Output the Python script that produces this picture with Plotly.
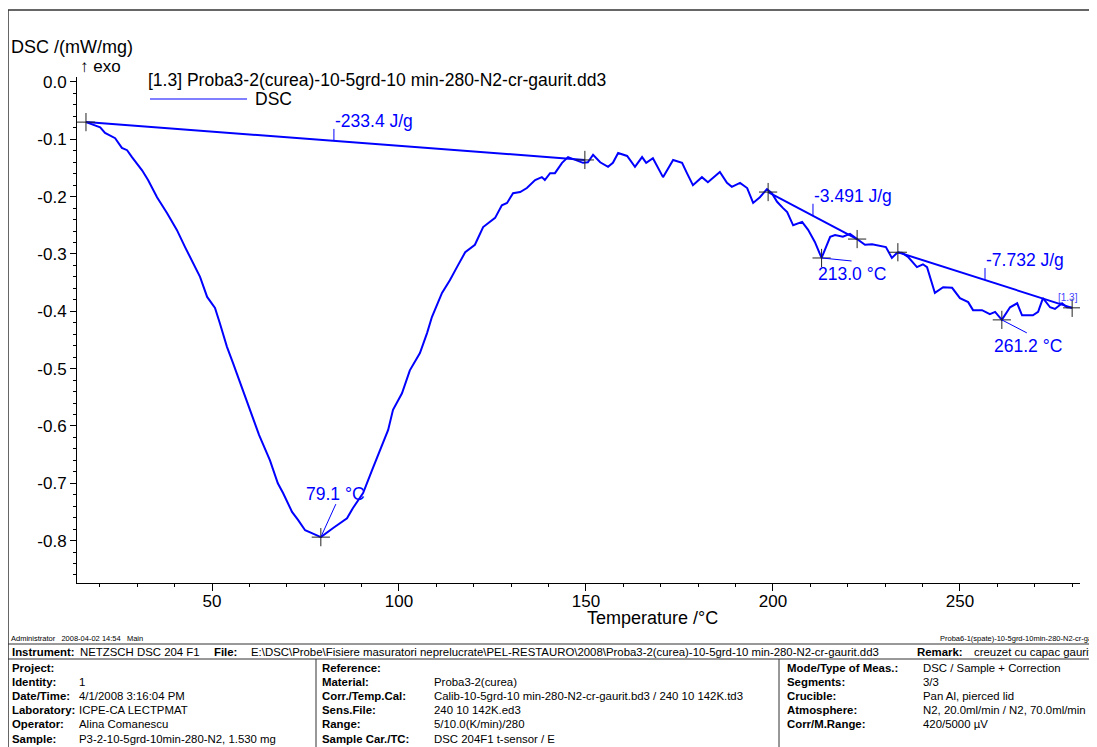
import plotly.graph_objects as go

# ---------------- data ----------------
temperature = [16.3, 20.1, 21.4, 24.1, 25.9, 27.3, 28.6, 31.3, 32.9, 35.3, 38.0, 40.6, 42.8, 44.9,
               46.8, 48.7, 50.8, 52.1, 54.0, 55.6, 57.5, 59.6, 62.6, 65.5, 67.6, 69.0, 71.4, 73.0,
               74.9, 76.7, 79.1, 82.4, 86.1, 87.7, 90.4, 92.8, 94.9, 97.1, 98.4, 100.8, 102.9, 105.6,
               107.5, 108.8, 111.5, 113.6, 115.5, 117.7, 120.3, 122.5, 125.7, 127.5, 128.9, 130.5,
               132.4, 134.2, 136.4, 138.2, 139.0, 140.4, 141.7, 143.6, 145.2, 147.1, 149.2, 150.5,
               151.9, 153.8, 155.9, 157.2, 158.6, 161.0, 163.1, 165.0, 166.1, 167.9, 170.6, 173.3,
               175.7, 177.0, 178.6, 181.0, 182.6, 185.8, 187.7, 189.0, 191.2, 193.1, 194.7, 196.5,
               198.4, 199.7, 201.1, 202.7, 203.8, 205.4, 207.8, 209.4, 211.2, 213.0, 215.3, 216.6,
               218.7, 220.6, 222.5, 224.6, 226.5, 228.6, 230.2, 231.8, 233.2, 234.5, 236.1, 238.5,
               240.1, 241.2, 243.3, 245.5, 247.9, 250.0, 252.2, 253.5, 255.9, 258.0, 259.4, 261.2,
               263.4, 265.3, 266.6, 269.5, 270.9, 272.2, 274.1, 275.4, 277.3, 278.6, 280.0]
dsc = [-0.070, -0.079, -0.089, -0.098, -0.115, -0.119, -0.131, -0.154, -0.171, -0.201, -0.229,
       -0.258, -0.288, -0.316, -0.340, -0.375, -0.394, -0.421, -0.462, -0.490, -0.525, -0.560,
       -0.616, -0.660, -0.700, -0.717, -0.750, -0.764, -0.782, -0.787, -0.794, -0.778, -0.761,
       -0.743, -0.717, -0.677, -0.642, -0.607, -0.572, -0.543, -0.503, -0.473, -0.438, -0.410,
       -0.368, -0.346, -0.323, -0.297, -0.284, -0.253, -0.237, -0.215, -0.211, -0.194, -0.192,
       -0.185, -0.171, -0.166, -0.171, -0.159, -0.159, -0.141, -0.131, -0.136, -0.141, -0.140,
       -0.127, -0.140, -0.148, -0.141, -0.124, -0.129, -0.148, -0.131, -0.141, -0.133, -0.166,
       -0.136, -0.141, -0.159, -0.180, -0.166, -0.175, -0.157, -0.176, -0.183, -0.176, -0.185,
       -0.211, -0.201, -0.187, -0.194, -0.209, -0.220, -0.227, -0.250, -0.244, -0.258, -0.279,
       -0.307, -0.270, -0.267, -0.270, -0.265, -0.274, -0.284, -0.283, -0.286, -0.288, -0.307,
       -0.298, -0.298, -0.305, -0.323, -0.318, -0.323, -0.368, -0.358, -0.359, -0.377, -0.384,
       -0.398, -0.398, -0.405, -0.401, -0.415, -0.393, -0.386, -0.407, -0.407, -0.401, -0.377,
       -0.393, -0.396, -0.386, -0.393, -0.394]

# integration baselines (start/end temperature and DSC value)
base_T = [[16.3, 149.7], [198.7, 222.5], [233.4, 280.0]]
base_D = [[-0.070, -0.136], [-0.192, -0.274], [-0.297, -0.394]]
area_labels = ["-233.4 J/g", "-3.491 J/g", "-7.732 J/g"]
area_label_T = [82.6, 210.7, 256.7]

# peaks
peak_T = [79.1, 213.0, 261.2]
peak_D = [-0.794, -0.307, -0.415]
peak_labels = ["79.1 °C", "213.0 °C", "261.2 °C"]

x_ticks = [50, 100, 150, 200, 250]
y_ticks = [0.0, -0.1, -0.2, -0.3, -0.4, -0.5, -0.6, -0.7, -0.8]
y_ticktext = ["0.0", "-0.1", "-0.2", "-0.3", "-0.4", "-0.5", "-0.6", "-0.7", "-0.8"]

legend_title = "[1.3] Proba3-2(curea)-10-5grd-10 min-280-N2-cr-gaurit.dd3"

# ---------------- layout geometry ----------------
OFF = 8                      # page body margin of the html page
W, H = 1097, 747
PLOT_L, PLOT_R, PLOT_T, PLOT_B = 77, 1080, 77, 583   # plot area in screen pixels
L, T = PLOT_L - OFF, PLOT_T - OFF
R = W - (PLOT_R - OFF)
B = H - (PLOT_B - OFF)
PW, PH = PLOT_R - PLOT_L, PLOT_B - PLOT_T
XR = [13.9, 282.1]
YR = [-0.874, 0.0087]
FONT = "Liberation Sans, Arial, sans-serif"
BLUE = "#0000ff"
BIG = 17.5


def pxx(px):  # screen pixel -> paper x
    return (px - PLOT_L) / PW


def pxy(py):  # screen pixel -> paper y
    return (PLOT_B - py) / PH


def dx(p):  # pixel length -> data x
    return p * (XR[1] - XR[0]) / PW


def dy(p):  # pixel length -> data y
    return p * (YR[1] - YR[0]) / PH


def base_at(i, t):
    (t0, t1), (d0, d1) = base_T[i], base_D[i]
    return d0 + (d1 - d0) * (t - t0) / (t1 - t0)


fig = go.Figure()
fig.add_trace(go.Scatter(x=temperature, y=dsc, mode="lines",
                         line=dict(color=BLUE, width=2), showlegend=False, hoverinfo="skip"))
for i in range(3):
    fig.add_trace(go.Scatter(x=base_T[i], y=base_D[i], mode="lines",
                             line=dict(color=BLUE, width=2), showlegend=False, hoverinfo="skip"))

shapes = []
annotations = []

# area label ticks and texts
for i in range(3):
    t = area_label_T[i]
    yb = base_at(i, t)
    shapes.append(dict(type="line", xref="x", yref="y", x0=t, x1=t, y0=yb, y1=yb + dy(12),
                       line=dict(color=BLUE, width=1)))
    annotations.append(dict(x=t, y=yb + dy(8), xref="x", yref="y", text=area_labels[i],
                            showarrow=False, xanchor="left", yanchor="bottom", xshift=-1,
                            font=dict(size=BIG, color=BLUE, family=FONT)))

# peak leaders and labels (pixel offsets of leader end / label)
leader = [(15, -33), (30, 3), (25, 13)]
label_anchor = [("center", "bottom", 15, -31), ("left", "top", -6, 4), ("left", "top", -10, 14)]
for i in range(3):
    lx, ly = leader[i]
    shapes.append(dict(type="line", xref="x", yref="y", x0=peak_T[i], y0=peak_D[i],
                       x1=peak_T[i] + dx(lx), y1=peak_D[i] - dy(ly),
                       line=dict(color=BLUE, width=1)))
    xa, ya, ox, oy = label_anchor[i]
    annotations.append(dict(x=peak_T[i] + dx(ox), y=peak_D[i] - dy(oy), xref="x", yref="y",
                            text=peak_labels[i], showarrow=False, xanchor=xa, yanchor=ya,
                            font=dict(size=BIG, color=BLUE, family=FONT)))

# crosses at integration limits and peaks
cross_T = [bt for pair in base_T for bt in pair] + peak_T
cross_D = [bd for pair in base_D for bd in pair] + peak_D
fig.add_trace(go.Scatter(x=cross_T, y=cross_D, mode="markers",
                         marker=dict(symbol="cross-thin", size=13,
                                     line=dict(color="#222222", width=1)),
                         showlegend=False, hoverinfo="skip"))

# "[1.3]" curve tag
annotations.append(dict(x=temperature[-1], y=dsc[-1], xref="x", yref="y", text="[1.3]",
                        showarrow=False, xanchor="right", yanchor="bottom", xshift=8, yshift=3,
                        font=dict(size=10, color="#4444ff", family=FONT)))

# titles and legend text
annotations += [
    dict(x=pxx(9), y=pxy(47), xref="paper", yref="paper", text="DSC /(mW/mg)", showarrow=False,
         xanchor="left", yanchor="middle", font=dict(size=18, color="black", family=FONT)),
    dict(x=pxx(78), y=pxy(67), xref="paper", yref="paper", text="↑ exo", showarrow=False,
         xanchor="left", yanchor="middle", font=dict(size=17, color="black", family=FONT)),
    dict(x=pxx(146), y=pxy(80), xref="paper", yref="paper", text=legend_title, showarrow=False,
         xanchor="left", yanchor="middle", font=dict(size=BIG, color="black", family=FONT)),
    dict(x=pxx(253), y=pxy(99), xref="paper", yref="paper", text="DSC", showarrow=False,
         xanchor="left", yanchor="middle", font=dict(size=BIG, color="black", family=FONT)),
    dict(x=pxx(585), y=pxy(618), xref="paper", yref="paper", text="Temperature /°C", showarrow=False,
         xanchor="left", yanchor="middle", font=dict(size=18, color="black", family=FONT)),
]
shapes.append(dict(type="line", xref="paper", yref="paper", x0=pxx(150), x1=pxx(247),
                   y0=pxy(99), y1=pxy(99), line=dict(color=BLUE, width=1)))

# outer frame
shapes.append(dict(type="line", xref="paper", yref="paper", x0=pxx(8), x1=pxx(1110),
                   y0=pxy(10), y1=pxy(10), line=dict(color="#333333", width=1.5)))
shapes.append(dict(type="line", xref="paper", yref="paper", x0=pxx(8), x1=pxx(8),
                   y0=pxy(10), y1=pxy(760), line=dict(color="#333333", width=1.5)))

# ---------------- info table ----------------
y_admin, y_l1, y_instr, y_l2 = 638, 644, 652, 659
rows_y = [668, 682, 696, 710, 724, 739]
for yy in (y_l1, y_l2):
    shapes.append(dict(type="line", xref="paper", yref="paper", x0=pxx(8), x1=pxx(1110),
                       y0=pxy(yy), y1=pxy(yy), line=dict(color="#333333", width=1)))
for xx in (316, 779):
    shapes.append(dict(type="line", xref="paper", yref="paper", x0=pxx(xx), x1=pxx(xx),
                       y0=pxy(y_l2), y1=pxy(760), line=dict(color="#333333", width=1)))


def txt(x, y, s, bold=False, size=11.4, anchor="left"):
    annotations.append(dict(x=pxx(x), y=pxy(y), xref="paper", yref="paper",
                            text=("<b>%s</b>" % s) if bold else s, showarrow=False,
                            xanchor=anchor, yanchor="middle",
                            font=dict(size=size, color="black", family=FONT)))


txt(9, y_admin, "Administrator   2008-04-02 14:54   Main", size=7.5)
txt(938, y_admin, "Proba6-1(spate)-10-5grd-10min-280-N2-cr-gaurit.n", size=7.5)
txt(10, y_instr, "Instrument:", bold=True)
txt(78, y_instr, "NETZSCH DSC 204 F1")
txt(212, y_instr, "File:", bold=True)
txt(249, y_instr,
    "E:\\DSC\\Probe\\Fisiere masuratori neprelucrate\\PEL-RESTAURO\\2008\\Proba3-2(curea)-10-5grd-10 min-280-N2-cr-gaurit.dd3")
txt(965, y_instr, "Remark:", bold=True, anchor="right")
txt(972, y_instr, "creuzet cu capac gaurit")

left_labels = ["Project:", "Identity:", "Date/Time:", "Laboratory:", "Operator:", "Sample:"]
left_values = ["", "1", "4/1/2008 3:16:04 PM", "ICPE-CA LECTPMAT", "Alina Comanescu",
               "P3-2-10-5grd-10min-280-N2, 1.530 mg"]
mid_labels = ["Reference:", "Material:", "Corr./Temp.Cal:", "Sens.File:", "Range:", "Sample Car./TC:"]
mid_values = ["", "Proba3-2(curea)", "Calib-10-5grd-10 min-280-N2-cr-gaurit.bd3 / 240 10 142K.td3",
              "240 10 142K.ed3", "5/10.0(K/min)/280", "DSC 204F1 t-sensor / E"]
right_labels = ["Mode/Type of Meas.:", "Segments:", "Crucible:", "Atmosphere:", "Corr/M.Range:"]
right_values = ["DSC / Sample + Correction", "3/3", "Pan Al, pierced lid",
                "N2, 20.0ml/min / N2, 70.0ml/min", "420/5000 µV"]
for i, yy in enumerate(rows_y):
    txt(10, yy, left_labels[i], bold=True)
    txt(77, yy, left_values[i])
    txt(320, yy, mid_labels[i], bold=True)
    txt(432, yy, mid_values[i])
    if i < len(right_labels):
        txt(785, yy, right_labels[i], bold=True)
        txt(921, yy, right_values[i])

fig.update_layout(
    width=W, height=H, margin=dict(l=L, r=R, t=T, b=B, pad=0),
    paper_bgcolor="white", plot_bgcolor="white", showlegend=False,
    font=dict(family=FONT, size=16, color="black"),
    shapes=shapes, annotations=annotations,
)
fig.update_xaxes(range=XR, showgrid=False, zeroline=False, showline=True, linecolor="black",
                 linewidth=1, ticks="outside", ticklen=7, tickcolor="black", tickmode="array",
                 tickvals=x_ticks, ticktext=[str(v) for v in x_ticks], ticklabelstandoff=-4,
                 tickfont=dict(size=17, family=FONT, color="black"),
                 minor=dict(ticks="outside", ticklen=3, tickcolor="black", dtick=10, tick0=0))
fig.update_yaxes(range=YR, showgrid=False, zeroline=False, showline=True, linecolor="black",
                 linewidth=1, ticks="outside", ticklen=6, tickcolor="black", tickmode="array",
                 tickvals=y_ticks, ticktext=y_ticktext,
                 tickfont=dict(size=17, family=FONT, color="black"),
                 minor=dict(ticks="outside", ticklen=3, tickcolor="black", dtick=0.02, tick0=0))

fig.write_html("out.html")
